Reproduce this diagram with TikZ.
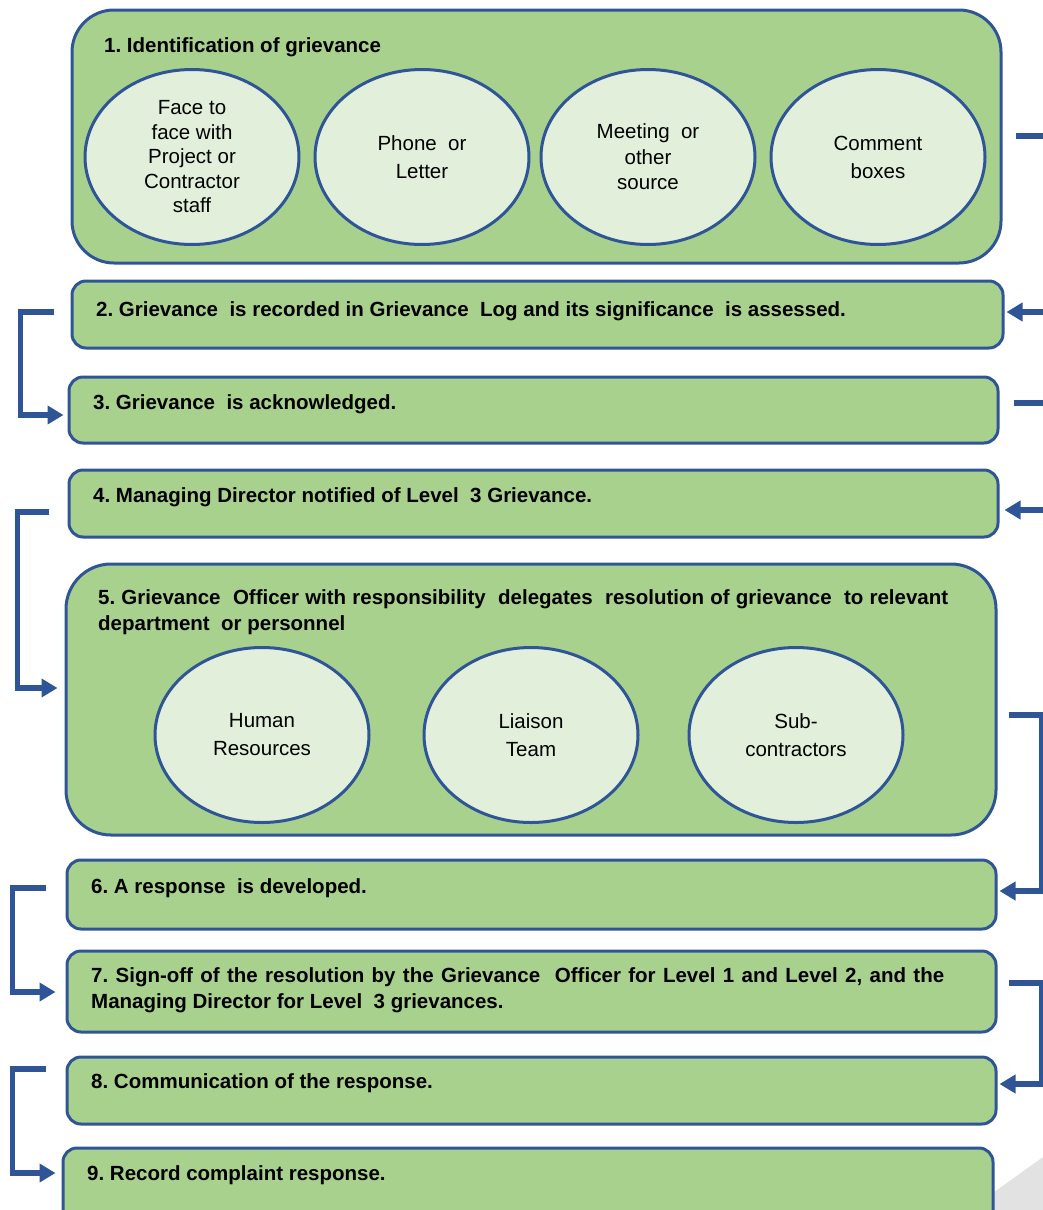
\documentclass[tikz,border=0pt]{standalone}
\usepackage{fontspec}
\setmainfont{Liberation Sans}
\usetikzlibrary{shapes.geometric,arrows.meta}
\definecolor{boxgreen}{HTML}{A9D18E}
\definecolor{ellgreen}{HTML}{E2EFDA}
\definecolor{edgeblue}{HTML}{2F5597}
\definecolor{shadegrey}{HTML}{E3E2E3}
\frenchspacing
\tikzset{
  stepbox/.style={draw=edgeblue, line width=3pt, fill=boxgreen, rounded corners=14pt, inner sep=0pt},
  bigbox/.style={stepbox, rounded corners=42pt},
  oval/.style={ellipse, draw=edgeblue, line width=3pt, fill=ellgreen, inner sep=0pt,
    minimum width=214pt, minimum height=175pt, align=center,
    font=\frenchspacing\fontsize{20.5}{24.5}\selectfont},
  ovaltwo/.style={oval, font=\frenchspacing\fontsize{20.5}{28}\selectfont},
  txt/.style={anchor=west, align=left, inner sep=0pt, font=\frenchspacing\fontsize{20.5}{26}\selectfont\bfseries},
  conn/.style={draw=edgeblue, line width=5.5pt, -{Triangle[length=16pt,width=18pt]}},
  connline/.style={draw=edgeblue, line width=5.5pt}
}
\begin{document}
\begin{tikzpicture}[x=1pt,y=-1pt]
\clip (0,0) rectangle (1043,1210);
\useasboundingbox (0,0) rectangle (1043,1210);
% grey corner
\fill[shadegrey] (969,1210) -- (1043,1157) -- (1043,1210) -- cycle;

% boxes
\node[bigbox, minimum width=929pt, minimum height=253pt] (b1) at (536.5,136.5) {};
\node[txt] (t1) at (104,47) {1. Identification of grievance};
\node[oval] (e1) at (192,157) {Face to\\face with\\Project or\\Contractor\\staff};
\node[ovaltwo] (e2) at (422,157) {Phone~ or\\Letter};
\node[oval, font=\frenchspacing\fontsize{20.5}{25.5}\selectfont] (e3) at (648,157) {Meeting~ or\\other\\source};
\node[ovaltwo] (e4) at (878,157) {Comment\\boxes};

\node[stepbox, minimum width=931pt, minimum height=67pt] (b2) at (537.5,314.5) {};
\node[txt] (t2) at (96,311) {2. Grievance~ is recorded in Grievance~ Log and its significance~ is assessed.};

\node[stepbox, minimum width=929pt, minimum height=66pt] (b3) at (533.5,410) {};
\node[txt] (t3) at (93,404) {3. Grievance~ is acknowledged.};

\node[stepbox, minimum width=929pt, minimum height=67pt] (b4) at (533.5,503.5) {};
\node[txt] (t4) at (93,497) {4. Managing Director notified of Level~ 3 Grievance.};

\node[bigbox, minimum width=930pt, minimum height=271pt, rounded corners=45pt] (b5) at (531,699.5) {};
\node[txt] (t5) at (98,612) {\hbox to 850pt{5. Grievance~ Officer with responsibility~ delegates~ resolution of grievance~ to relevant}\\department~ or personnel};
\node[ovaltwo] (e5) at (262,735) {Human\\Resources};
\node[ovaltwo] (e6) at (531,735) {Liaison\\Team};
\node[ovaltwo] (e7) at (796,735) {Sub-\\contractors};

\node[stepbox, minimum width=929pt, minimum height=69pt] (b6) at (531.5,894.5) {};
\node[txt] (t6) at (91,888) {6. A response~ is developed.};

\node[stepbox, minimum width=929pt, minimum height=81pt] (b7) at (531.5,991.5) {};
\node[txt] (t7) at (91,990) {\hbox to 853pt{7. Sign-off of the resolution by the Grievance~ Officer for Level 1 and Level 2, and the}\\Managing Director for Level~ 3 grievances.};

\node[stepbox, minimum width=929pt, minimum height=67pt] (b8) at (531.5,1090.5) {};
\node[txt] (t8) at (91,1083) {8. Communication of the response.};

\node[stepbox, minimum width=930pt, minimum height=77pt] (b9) at (528,1186.5) {};
\node[txt] (t9) at (87,1175) {9. Record complaint response.};

% right edge free ends
\coordinate (r1) at (1043,136);
\coordinate (r2) at (1043,312);
\coordinate (r3) at (1043,403);
\coordinate (r4) at (1043,510);

% right connectors
\draw[connline] ([shift={(13,-0.5)}]b1.east) -- (r1);
\draw[conn] (r2) -- ([shift={(2,-2.5)}]b2.east);
\draw[connline] ([shift={(14,-7)}]b3.east) -- (r3);
\draw[conn] (r4) -- ([shift={(5,6.5)}]b4.east);

% left brackets
\draw[conn] ([shift={(-17,-2.5)}]b2.west) -- ++(-33,0) |- ([shift={(-4,5)}]b3.west);
\draw[conn] ([shift={(-19,8.5)}]b4.west) -- ++(-31,0) |- ([shift={(-7,-11.5)}]b5.west);
\draw[conn] ([shift={(-20,-6.5)}]b6.west) -- ++(-33,0) |- ([shift={(-10,0.5)}]b7.west);
\draw[conn] ([shift={(-20,-21.5)}]b8.west) -- ++(-33,0) |- ([shift={(-6,-13.5)}]b9.west);

% right brackets
\draw[conn] ([shift={(11,15.5)}]b5.east) -- ++(33,0) |- ([shift={(2,-3.5)}]b6.east);
\draw[conn] ([shift={(11,-8.5)}]b7.east) -- ++(33,0) |- ([shift={(2,-6.5)}]b8.east);
\end{tikzpicture}
\end{document}
